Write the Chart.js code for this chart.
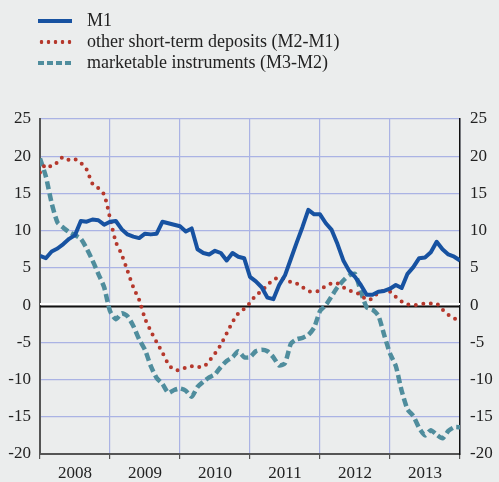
<!DOCTYPE html>
<html>
<head>
<meta charset="utf-8">
<script src="https://cdn.jsdelivr.net/npm/chart.js@4"></script>
<style>
  html, body { margin: 0; padding: 0; background: #ebeded; }
  #wrap { position: relative; width: 499px; height: 482px; }
  #legend { position: absolute; left: 38px; top: 10px; font-family: "Liberation Serif", serif; font-size: 18px; color: #222; }
  .row { height: 21px; display: flex; align-items: center; }
  .key { width: 34px; height: 4px; margin-right: 15px; }
</style>
</head>
<body>
<div id="wrap">
  <canvas id="myChart" width="499" height="482"></canvas>
  <div id="legend"></div>
</div>
<script>
// month index 0 = Dec 2007 ... 72 = Dec 2013
const years = ["2008", "2009", "2010", "2011", "2012", "2013"];
const months = [];
for (let m = 0; m <= 72; m++) months.push(m);

const m1 = [6.6, 6.3, 7.2, 7.6, 8.2, 8.9, 9.4, 11.3, 11.2, 11.5,
  11.4, 10.8, 11.2, 11.3, 10.2, 9.5, 9.2, 9.0, 9.6, 9.5,
  9.6, 11.2, 11.0, 10.8, 10.6, 9.9, 10.3, 7.5, 7.0, 6.8,
  7.3, 7.0, 6.0, 7.0, 6.5, 6.3, 3.8, 3.2, 2.4, 1.0,
  0.8, 2.7, 4.0, 6.2, 8.4, 10.5, 12.8, 12.2, 12.2, 11.0,
  10.1, 8.2, 6.0, 4.6, 3.8, 2.7, 1.4, 1.4, 1.8, 1.9,
  2.2, 2.7, 2.3, 4.2, 5.1, 6.3, 6.4, 7.1, 8.5, 7.5,
  6.8, 6.5, 6.0];

const shortTerm = [17.8, 18.9, 18.6, 19.2, 19.9, 19.5, 19.6, 19.1, 18.2, 16.3,
  15.7, 14.8, 11.7, 8.5, 6.8, 4.6, 2.4, 0.7, -1.8, -3.5,
  -5.0, -6.4, -7.9, -8.7, -8.7, -8.4, -8.2, -8.3, -8.3, -7.5,
  -6.5, -5.3, -3.8, -2.3, -1.1, -0.5, 0.3, 1.3, 1.9, 2.7,
  3.4, 3.7, 3.5, 3.1, 2.9, 2.4, 1.9, 1.8, 2.0, 2.6,
  2.9, 2.9, 2.4, 2.0, 1.7, 1.4, 0.7, 0.9, 1.7, 1.9,
  1.8, 1.1, 0.5, 0.1, 0.0, 0.1, 0.2, 0.2, 0.2, -0.6,
  -1.3, -1.8, -1.9];

const marketable = [19.7, 17.3, 13.7, 11.1, 10.4, 9.8, 9.4, 8.9, 7.6, 6.0,
  4.2, 2.4, -0.8, -1.9, -1.1, -1.5, -2.8, -4.6, -6.0, -8.2,
  -9.8, -10.6, -11.8, -11.4, -11.2, -11.5, -12.3, -11.0, -10.3, -9.7,
  -9.3, -8.3, -7.5, -7.0, -6.2, -7.0, -7.0, -6.2, -6.0, -6.2,
  -7.0, -8.1, -7.8, -5.2, -4.6, -4.4, -4.0, -3.0, -0.8, 0.0,
  1.2, 2.4, 3.3, 4.0, 4.2, 1.8, -0.3, -0.6, -1.4, -4.0,
  -6.5, -8.2, -11.5, -14.0, -14.9, -16.5, -17.5, -16.8, -17.4, -17.9,
  -16.9, -16.4, -16.4];

const names = ["M1", "other short-term deposits (M2-M1)", "marketable instruments (M3-M2)"];
const colors = ["#1752a1", "#b5382c", "#4f8d9d"];

// html legend
const keyStyles = [
  "background:" + colors[0] + ";height:4px",
  "height:4px;background-image:radial-gradient(circle, " + colors[1] + " 1.7px, transparent 2.1px);background-size:7px 4px",
  "height:4px;background-image:repeating-linear-gradient(90deg, " + colors[2] + " 0 6px, transparent 6px 9px)"
];
let html = "";
for (let i = 0; i < names.length; i++) {
  html += '<div class="row"><span class="key" style="' + keyStyles[i] + '"></span><span>' + names[i] + "</span></div>";
}
document.getElementById("legend").innerHTML = html;

const zeroLine = {
  id: "zeroLine",
  beforeDatasetsDraw(chart) {
    const c = chart.ctx;
    const a = chart.chartArea;
    const y = chart.scales.y.getPixelForValue(0);
    c.save();
    c.lineWidth = 2;
    c.strokeStyle = "#ffffff";
    c.beginPath();
    c.moveTo(a.left, y - 1);
    c.lineTo(a.right, y - 1);
    c.stroke();
    c.strokeStyle = "#111111";
    c.beginPath();
    c.moveTo(a.left, y + 1.5);
    c.lineTo(a.right, y + 1.5);
    c.stroke();
    c.restore();
  },
};

const serif = { family: "Liberation Serif", size: 17 };
Chart.defaults.color = "#222";

const ctx = document.getElementById("myChart");
let obj = new Chart(ctx, {
  type: "line",
  data: {
    labels: months,
    datasets: [
      {
        label: names[0],
        data: m1,
        borderColor: colors[0],
        borderWidth: 4,
        pointRadius: 0,
        tension: 0,
        borderJoinStyle: "round",
      },
      {
        label: names[1],
        data: shortTerm,
        borderColor: colors[1],
        borderWidth: 4,
        borderDash: [0, 7.5],
        borderCapStyle: "round",
        pointRadius: 0,
        tension: 0.3,
      },
      {
        label: names[2],
        data: marketable,
        borderColor: colors[2],
        borderWidth: 4.5,
        borderDash: [8, 4],
        pointRadius: 0,
        tension: 0.2,
      },
    ],
  },
  options: {
    responsive: false,
    animation: false,
    layout: { padding: { top: 119, left: 0, right: 0, bottom: 0 } },
    plugins: { legend: { display: false }, tooltip: { enabled: false } },
    scales: {
      x: {
        type: "linear",
        min: 0,
        max: 72,
        afterBuildTicks: (scale) => {
          const t = [];
          for (let v = 0; v <= 72; v += 6) t.push({ value: v });
          scale.ticks = t;
        },
        afterFit: (scale) => { scale.height = 28; },
        ticks: {
          autoSkip: false,
          maxRotation: 0,
          padding: 4,
          font: serif,
          color: "#222",
          callback: (v) => (v % 12 === 6 ? years[(v - 6) / 12] : ""),
        },
        grid: {
          color: (c) => (c.tick && c.tick.value % 12 === 0 ? "#aab3e4" : "transparent"),
          tickColor: (c) => (c.tick && c.tick.value % 12 === 0 ? "#555" : "transparent"),
          tickLength: 5,
          lineWidth: 1.2,
        },
        border: { color: "#555", width: 2 },
      },
      y: {
        position: "left",
        min: -20,
        max: 25,
        afterFit: (scale) => { scale.width = 40; },
        ticks: { stepSize: 5, padding: 9, font: serif, color: "#222" },
        grid: {
          color: (c) => (c.tick && c.tick.value === 0 ? "transparent" : "#aab3e4"),
          lineWidth: 1.2,
          drawTicks: false,
        },
        border: { color: "#555", width: 2 },
      },
      y1: {
        position: "right",
        min: -20,
        max: 25,
        afterFit: (scale) => { scale.width = 39; },
        ticks: { stepSize: 5, padding: 10, font: serif, color: "#222" },
        grid: { display: false, drawTicks: false },
        border: { color: "#111", width: 1.5 },
      },
    },
  },
  plugins: [zeroLine],
});
</script>
</body>
</html>
